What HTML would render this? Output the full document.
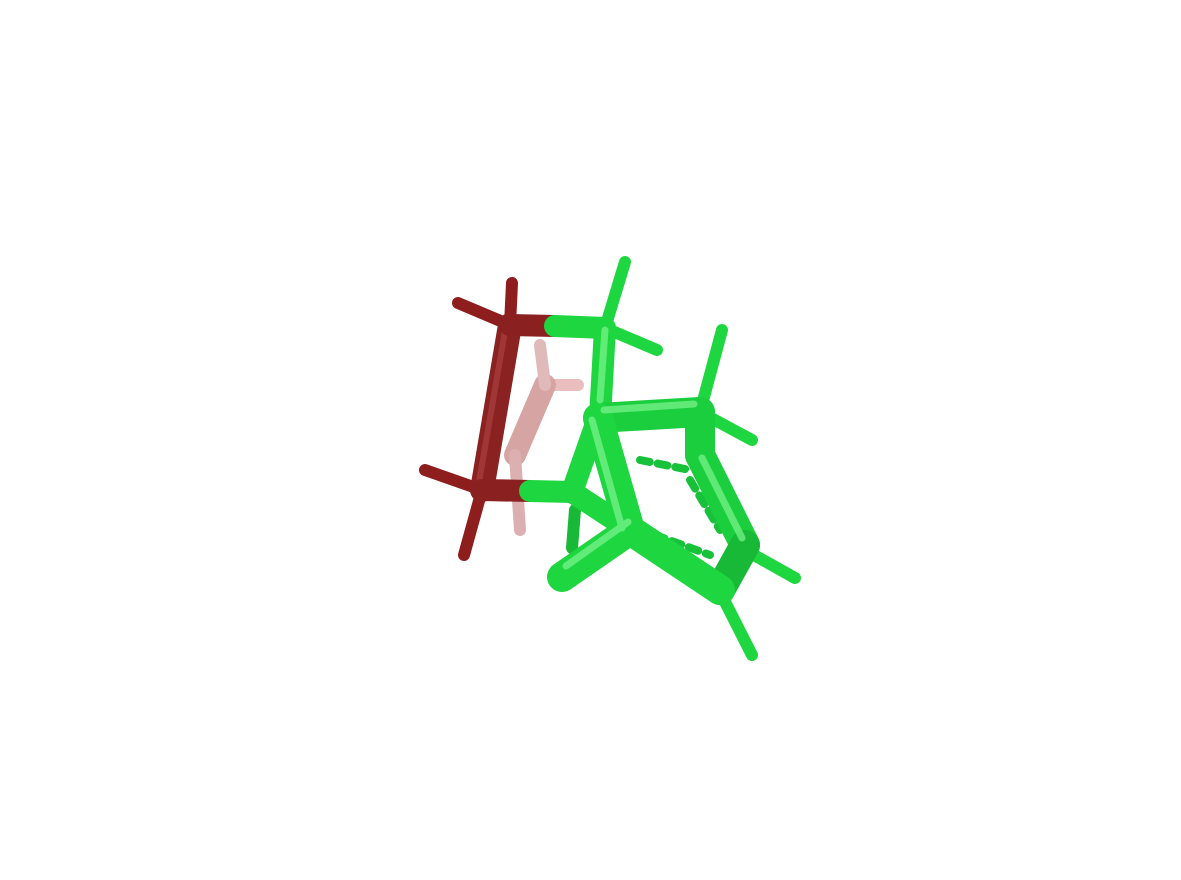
<!DOCTYPE html>
<html>
<head>
<meta charset="utf-8">
<style>
html,body{margin:0;padding:0;background:#fff;width:1181px;height:880px;overflow:hidden;}
svg{display:block;}
</style>
</head>
<body>
<svg width="1181" height="880" viewBox="0 0 1181 880" xmlns="http://www.w3.org/2000/svg">
  <g stroke-linecap="round" stroke-linejoin="round" fill="none" opacity="0.55">
    <line x1="545" y1="385" x2="578" y2="385" stroke="#d98a8a" stroke-width="12"/>
    <line x1="545" y1="385" x2="515" y2="455" stroke="#b85a5a" stroke-width="22"/>
    <line x1="515" y1="455" x2="520" y2="530" stroke="#c07070" stroke-width="12"/>
    <line x1="545" y1="385" x2="540" y2="345" stroke="#c88080" stroke-width="12"/>
  </g>
  <g stroke-linecap="round" fill="none">
    <line x1="510" y1="325" x2="458" y2="303" stroke="#8e1e1e" stroke-width="12"/>
    <line x1="510" y1="325" x2="512" y2="283" stroke="#8e1e1e" stroke-width="12"/>
    <line x1="482" y1="490" x2="425" y2="470" stroke="#8e1e1e" stroke-width="12"/>
    <line x1="482" y1="490" x2="464" y2="555" stroke="#8e1e1e" stroke-width="12"/>
    <line x1="510" y1="325" x2="482" y2="490" stroke="#8a2222" stroke-width="24"/>
    <line x1="506" y1="325" x2="478" y2="488" stroke="#b04444" stroke-width="6" opacity="0.6"/>
    <line x1="510" y1="325" x2="555" y2="326" stroke="#8a2020" stroke-width="22"/>
    <line x1="482" y1="490" x2="530" y2="491" stroke="#8a2020" stroke-width="22"/>
  </g>
  <g stroke-linecap="round" fill="none">
    <line x1="605" y1="328" x2="625" y2="262" stroke="#1ed640" stroke-width="12"/>
    <line x1="605" y1="328" x2="657" y2="350" stroke="#1ed640" stroke-width="12"/>
    <line x1="700" y1="412" x2="722" y2="330" stroke="#1ed640" stroke-width="12"/>
    <line x1="700" y1="412" x2="752" y2="440" stroke="#1ed640" stroke-width="12"/>
    <line x1="745" y1="550" x2="795" y2="578" stroke="#1ed640" stroke-width="12"/>
    <line x1="720" y1="592" x2="752" y2="655" stroke="#1ed640" stroke-width="12"/>
    <line x1="575" y1="510" x2="572" y2="548" stroke="#17b936" stroke-width="12"/>
    <line x1="555" y1="326" x2="605" y2="328" stroke="#1ed640" stroke-width="22"/>
    <line x1="530" y1="491" x2="572" y2="492" stroke="#1ed640" stroke-width="22"/>
    <line x1="605" y1="328" x2="600" y2="418" stroke="#1ed640" stroke-width="22"/>
    <line x1="572" y1="492" x2="598" y2="418" stroke="#1ed640" stroke-width="22"/>
    <line x1="572" y1="492" x2="630" y2="530" stroke="#1ed640" stroke-width="22"/>
    <g stroke="#17c23a" stroke-width="8" stroke-dasharray="10 8">
      <line x1="640" y1="460" x2="690" y2="470"/>
      <line x1="690" y1="480" x2="720" y2="530"/>
      <line x1="655" y1="535" x2="710" y2="555"/>
    </g>
    <line x1="598" y1="418" x2="700" y2="412" stroke="#1bce3d" stroke-width="30"/>
    <line x1="700" y1="412" x2="700" y2="455" stroke="#1bce3d" stroke-width="30"/>
    <line x1="700" y1="455" x2="745" y2="545" stroke="#1bce3d" stroke-width="30"/>
    <line x1="745" y1="545" x2="720" y2="590" stroke="#17b936" stroke-width="30"/>
    <line x1="720" y1="590" x2="630" y2="530" stroke="#1ed640" stroke-width="30"/>
    <line x1="630" y1="530" x2="598" y2="418" stroke="#1ed640" stroke-width="30"/>
    <line x1="630" y1="530" x2="562" y2="577" stroke="#1ed640" stroke-width="30"/>
    <g stroke="#7ef590" stroke-width="7" opacity="0.7">
      <line x1="592" y1="420" x2="622" y2="528"/>
      <line x1="604" y1="410" x2="694" y2="404"/>
      <line x1="628" y1="522" x2="566" y2="566"/>
      <line x1="702" y1="458" x2="742" y2="538"/>
      <line x1="605" y1="330" x2="600" y2="400"/>
    </g>
  </g>
</svg>
</body>
</html>
